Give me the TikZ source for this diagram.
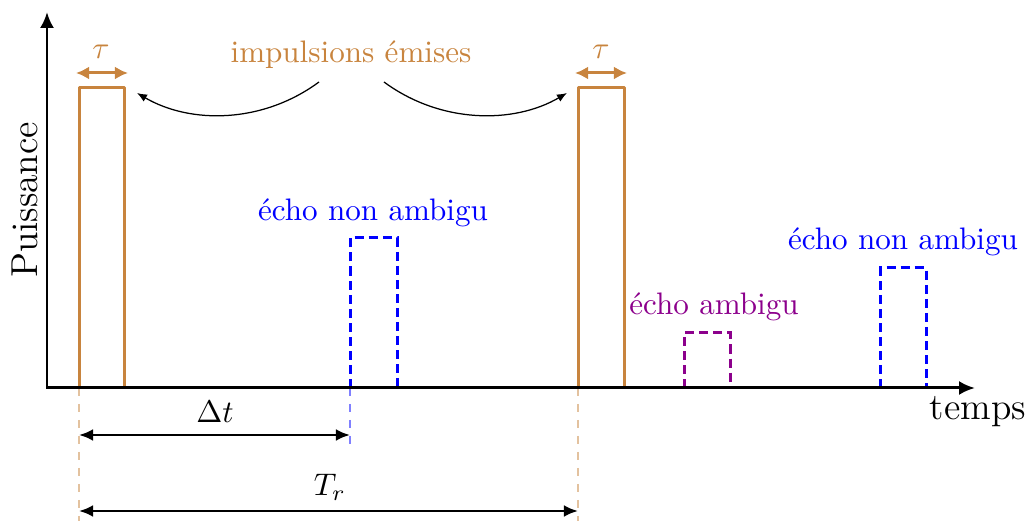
\documentclass[tikz,border=0pt]{standalone}
\usetikzlibrary{arrows.meta}
\definecolor{cuivre}{RGB}{200,132,62}
\definecolor{violet}{RGB}{140,0,140}
\begin{document}
\begin{tikzpicture}[x=0.32pt,y=-0.32pt,
  lbl/.style={font=\fontsize{9.95}{12}\selectfont, inner sep=0pt},
  biglbl/.style={font=\fontsize{12}{14}\selectfont, inner sep=0pt},
  pulse/.style={cuivre, line width=0.96pt, line join=round},
  echo/.style={line width=0.96pt, dash pattern=on 2.9pt off 1.6pt},
  axe/.style={line width=0.96pt, {Latex[length=5.1pt,width=4.5pt]}-{Latex[length=5.1pt,width=4.5pt]}},
  cote/.style={line width=0.83pt, {Latex[length=4.5pt,width=3.8pt]}-{Latex[length=4.5pt,width=3.8pt]}},
  guide/.style={line width=0.5pt, dash pattern=on 2.56pt off 2.56pt}]
\useasboundingbox (0,0) rectangle (1030,521);
% axes
\coordinate (O) at (47,388);
\coordinate (Ytop) at (47,12);
\coordinate (Xend) at (975,388);
% guides
\coordinate (g1a) at (79,388); \coordinate (g1b) at (79,521);
\coordinate (g2a) at (578,388); \coordinate (g2b) at (578,521);
\coordinate (g3a) at (350,388); \coordinate (g3b) at (350,446);
\draw[guide, cuivre!50] (g1a) -- (g1b);
\draw[guide, cuivre!50] (g2a) -- (g2b);
\draw[guide, blue!50] (g3a) -- (g3b);
% pulses
\draw[pulse] (79,388) -- (79,88) -- (124,88) -- (124,388);
\draw[pulse] (578,388) -- (578,88) -- (624,88) -- (624,388);
% echoes
\draw[echo, blue] (350,388) -- (350,238) -- (397,238) -- (397,388);
\draw[echo, violet] (684,388) -- (684,333) -- (730,333) -- (730,388);
\draw[echo, blue] (880,388) -- (880,268) -- (926,268) -- (926,388);
\draw[axe] (Ytop) -- (O) -- (Xend);
% tau
\coordinate (t1a) at (76,73); \coordinate (t1b) at (128,73);
\coordinate (t2a) at (575,73); \coordinate (t2b) at (627,73);
\draw[cuivre, line width=0.96pt, {Latex[length=4.2pt,width=4.2pt]}-{Latex[length=4.2pt,width=4.2pt]}] (t1a) -- (t1b);
\draw[cuivre, line width=0.96pt, {Latex[length=4.2pt,width=4.2pt]}-{Latex[length=4.2pt,width=4.2pt]}] (t2a) -- (t2b);
\node[lbl, cuivre] (tau1) at (101,52) {$\tau$};
\node[lbl, cuivre] (tau2) at (601,52) {$\tau$};
\node[lbl, cuivre] (imp) at (351,55) {impulsions émises};
% curved arrows
\coordinate (c1s) at (319,82); \coordinate (c1e) at (137,93);
\coordinate (c2s) at (384,82); \coordinate (c2e) at (567,93);
\draw[line width=0.4pt, -{Latex[length=3.2pt,width=2.6pt]}] (c1s) .. controls (262,124) and (190,124) .. (c1e);
\draw[line width=0.4pt, -{Latex[length=3.2pt,width=2.6pt]}] (c2s) .. controls (441,124) and (514,124) .. (c2e);
% echo labels
\node[lbl, blue] (e1) at (373,213) {écho non ambigu};
\node[lbl, violet] (e2) at (714,307) {écho ambigu};
\node[lbl, blue] (e3) at (903,242) {écho non ambigu};
% axis labels
\node[biglbl] (temps) at (978,412) {temps};
\node[biglbl, rotate=90] (puis) at (25,200) {Puissance};
% cotes
\coordinate (d1) at (79,435); \coordinate (d2) at (350,435);
\coordinate (r1) at (79,511); \coordinate (r2) at (578,511);
\draw[cote] (d1) -- (d2);
\draw[cote] (r1) -- (r2);
\node[lbl] (dt) at (215,412) {$\Delta t$};
\node[lbl] (tr) at (330,487) {$T_r$};
\end{tikzpicture}
\end{document}
